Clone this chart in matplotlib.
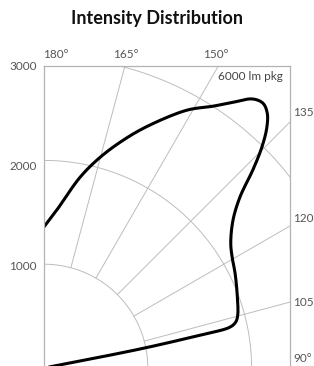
import numpy as np
import matplotlib
matplotlib.use('Agg')
import matplotlib.pyplot as plt

# ---- data (angle in degrees, intensity in candela) ----
angles = [180, 175.3, 169.3, 165.1, 160.9, 156.9, 151, 147.2, 144.6,
          142.2, 140.4, 138.8, 137.2, 135.4, 133.5, 131.1, 128, 123.8, 120.6,
          116.4, 110.7, 105.3, 103.5, 102.4, 101.9, 101.2, 100.8]
intensity = [1360, 1530, 1870, 2100, 2320, 2530, 2840, 3000, 3140,
             3280, 3310, 3265, 3160, 2990, 2775, 2505, 2310, 2165, 2105,
             2055, 1990, 1935, 1900, 1835, 1535, 945, 0]
ring_values = [1000, 2000, 3000]
spoke_angles = [90, 105, 120, 135, 150, 165]
y_tick_values = [1000, 2000, 3000]
y_tick_labels = ['1000', '2000', '3000']
top_labels = ['180°', '165°', '150°']
right_labels = ['135', '120', '105', '90°']
title = 'Intensity Distribution'
note = '6000 lm pkg'

W, H = 314, 366
fig = plt.figure(figsize=(W / 100, H / 100), dpi=100)
fig.patch.set_facecolor('white')

FONT = ['Lato', 'DejaVu Sans']
GRID = '#bdbdbd'
FRAME = '#b3b3b3'
TXT = '#555555'

# polar axes, centre just below the visible area
cx, cy = 44, 368
scale = 0.1038
rmax = 4000
R = rmax * scale
ax = fig.add_axes([(cx - R) / W, ((H - cy) - R) / H, 2 * R / W, 2 * R / H],
                  projection='polar')
ax.set_theta_offset(np.deg2rad(-90))
ax.set_rlim(0, rmax)
ax.axis('off')

# overlay frame axes (rectangular frame and left labels)
ax2 = fig.add_axes([44 / W, 0, (290 - 44) / W, 300 / H])
ax2.set_facecolor('none')
ax2.set_xlim(0, 1)
ax2.set_ylim(-15, 3000)
ax2.set_xticks([])
ax2.set_yticks(y_tick_values)
ax2.set_yticklabels(y_tick_labels, family=FONT)
ax2.tick_params(axis='y', length=0, pad=5, labelsize=8.5, labelcolor=TXT)
for s in ['left', 'top', 'right']:
    ax2.spines[s].set_color(FRAME)
    ax2.spines[s].set_linewidth(0.9)
ax2.spines['bottom'].set_visible(False)


def smooth_polar(theta_deg, r, n=16, alpha=0.5):
    """Centripetal Catmull-Rom rendering of the read points (in cartesian)."""
    ph = np.deg2rad(np.asarray(theta_deg, float))
    rr = np.asarray(r, float)
    P = np.column_stack([rr * np.cos(ph), rr * np.sin(ph)])
    ext = np.vstack([2 * P[0] - P[1], P, 2 * P[-1] - P[-2]])
    out = []
    for i in range(1, len(ext) - 2):
        p0, p1, p2, p3 = ext[i - 1:i + 3]
        d01 = max(np.linalg.norm(p1 - p0), 1e-6) ** alpha
        d12 = max(np.linalg.norm(p2 - p1), 1e-6) ** alpha
        d23 = max(np.linalg.norm(p3 - p2), 1e-6) ** alpha
        t0, t1 = 0.0, d01
        t2 = t1 + d12
        t3 = t2 + d23
        t = np.linspace(t1, t2, n, endpoint=False)[:, None]
        A1 = (t1 - t) / (t1 - t0) * p0 + (t - t0) / (t1 - t0) * p1
        A2 = (t2 - t) / (t2 - t1) * p1 + (t - t1) / (t2 - t1) * p2
        A3 = (t3 - t) / (t3 - t2) * p2 + (t - t2) / (t3 - t2) * p3
        B1 = (t2 - t) / (t2 - t0) * A1 + (t - t0) / (t2 - t0) * A2
        B2 = (t3 - t) / (t3 - t1) * A2 + (t - t1) / (t3 - t1) * A3
        out.append((t2 - t) / (t2 - t1) * B1 + (t - t1) / (t2 - t1) * B2)
    out.append(P[-1:])
    C = np.vstack(out)
    return np.arctan2(C[:, 1], C[:, 0]), np.hypot(C[:, 0], C[:, 1])


artists = []
theta_ring = np.linspace(0, 2 * np.pi, 721)
for v in ring_values:
    artists += ax.plot(theta_ring, np.full_like(theta_ring, v), color=GRID, lw=0.7)
for a in spoke_angles:
    artists += ax.plot([np.deg2rad(a)] * 2, [1000, rmax], color=GRID, lw=0.7)

th, rr = smooth_polar(angles, intensity)
artists += ax.plot(th, rr, color='black', lw=2.2,
                   solid_capstyle='round', solid_joinstyle='round')
for art in artists:
    art.set_clip_path(ax2.patch)


def ftext(x, y, s, **kw):
    fig.text(x / W, 1 - y / H, s, family=FONT, fontsize=8.5, color=TXT, **kw)


top_pos = [(43, 'left'), (126, 'center'), (216, 'center')]
for (x, ha), s in zip(top_pos, top_labels):
    ftext(x, 55, s, ha=ha, va='center')
right_y = [112, 219, 302.5, 359]
for y, s in zip(right_y, right_labels):
    ftext(293, y, s, ha='left', va='center')

fig.text(283 / W, 1 - 76 / H, note, family=FONT, fontsize=8.5, color='#444444',
         ha='right', va='center')
fig.text(157 / W, 1 - 18.5 / H, title, family=FONT, fontsize=13,
         fontweight='bold', color='#111111', ha='center', va='center')

fig.savefig('out.png', dpi=100, facecolor='white')
